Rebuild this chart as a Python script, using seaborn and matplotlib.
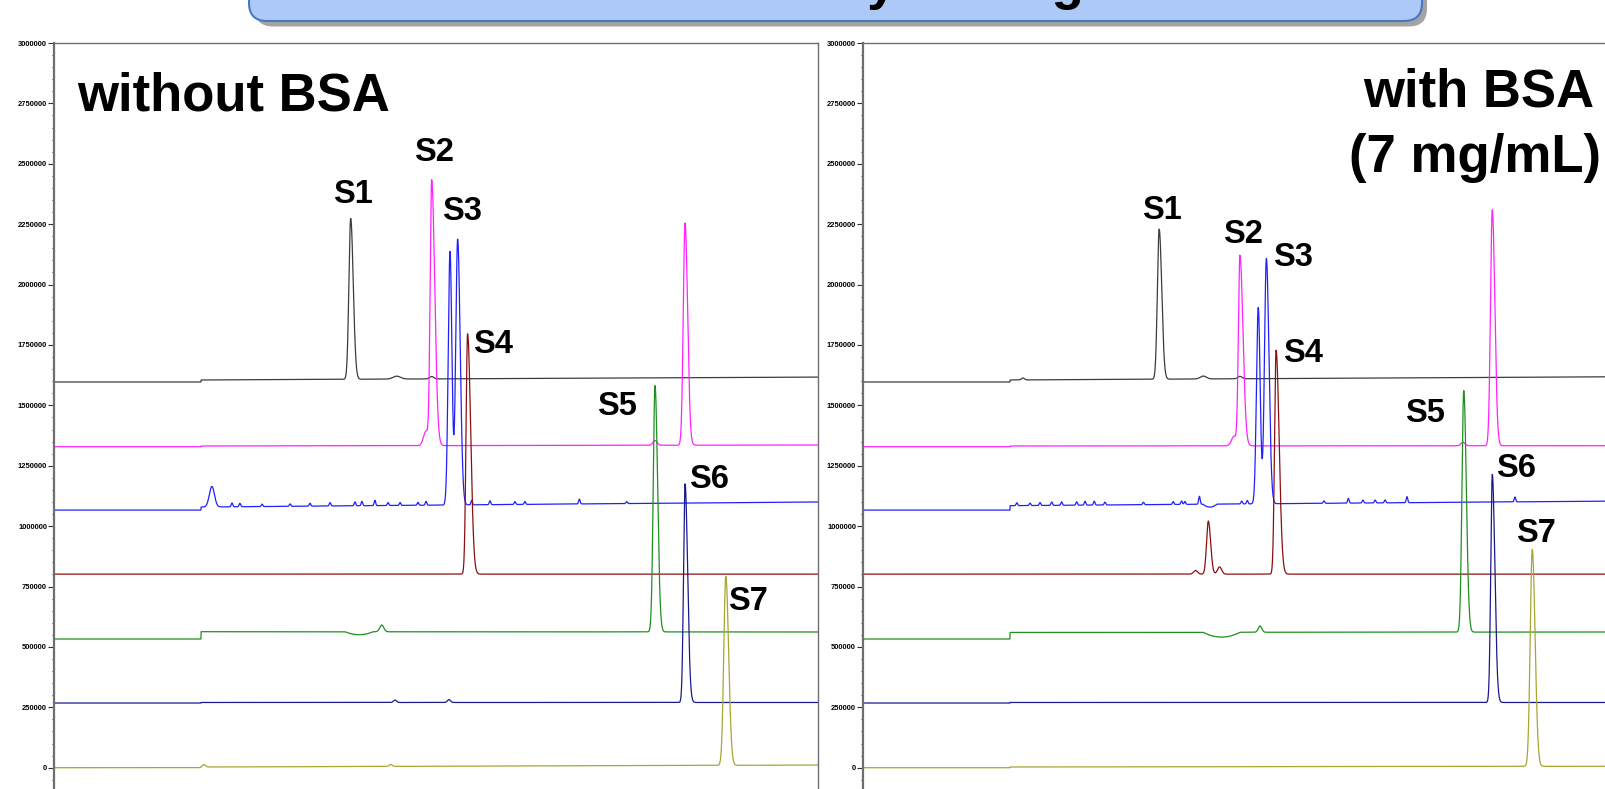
import numpy as np
import pandas as pd
import matplotlib
matplotlib.use("Agg")
import matplotlib.pyplot as plt
import seaborn as sns
from matplotlib.patches import FancyBboxPatch
from matplotlib.ticker import MultipleLocator, FuncFormatter

sns.set_theme(style="white")
plt.rcParams["font.family"] = ["Liberation Sans", "DejaVu Sans"]
plt.rcParams["text.color"] = "black"

# ---------------- DATA ----------------
trace_names = ["S1", "S2", "S3", "S4", "S5", "S6", "S7"]
trace_colors = ["#3c3c3c", "#ff22ff", "#2020ff", "#8a1010", "#1f8f1f", "#1a1a8c", "#a6a632"]
run_time = 30.0          # minutes shown in each panel
inject_time = 5.77       # baseline step (injection)

# baseline levels per trace: before step, after step, at end of run
left_base_before = [1596700, 1328800, 1066500, 801300, 532800, 267800, 0]
left_base_after  = [1605000, 1331700, 1079000, 801300, 563000, 270000, 2900]
left_base_end    = [1617000, 1335900, 1100000, 801300, 561800, 270000, 11000]
right_base_before = [1596700, 1328800, 1066500, 801300, 532800, 267800, 0]
right_base_after  = [1605000, 1331700, 1084600, 801300, 560000, 270000, 2900]
right_base_end    = [1618600, 1333000, 1104000, 801300, 561800, 270000, 6000]

# peaks: trace index, retention time, height, left width, right width
left_peaks = [
    (0, 11.65, 666000, 0.07, 0.10), (0, 13.46, 12000, 0.15, 0.15), (0, 14.83, 10000, 0.08, 0.08),
    (1, 14.61, 60000, 0.10, 0.08), (1, 14.83, 1100000, 0.06, 0.12), (1, 23.60, 20000, 0.08, 0.08),
    (1, 24.78, 920000, 0.07, 0.10),
    (2, 15.55, 1050000, 0.07, 0.075), (2, 15.85, 1100000, 0.075, 0.10),
    (3, 16.24, 995000, 0.06, 0.12),
    (4, 12.87, 28000, 0.08, 0.08), (4, 23.60, 1020000, 0.07, 0.10),
    (5, 13.39, 10000, 0.06, 0.06), (5, 15.51, 12000, 0.06, 0.06), (5, 24.78, 905000, 0.06, 0.10),
    (6, 5.89, 10000, 0.06, 0.06), (6, 13.22, 8000, 0.06, 0.06), (6, 26.38, 782000, 0.08, 0.11),
]
left_dips = [(4, 11.43, 12.53, 12000)]
left_blue_spike_rt = [6.20, 6.99, 7.30, 8.17, 9.27, 10.05, 10.84, 11.82, 12.09, 12.60, 13.12,
                      13.59, 14.29, 14.61, 16.40, 17.12, 18.10, 18.49, 20.63, 22.49]
left_blue_spike_h = [85000, 16000, 14000, 10000, 10000, 12000, 14000, 16000, 18000, 22000, 12000,
                     12000, 12000, 16000, 18000, 16000, 12000, 12000, 20000, 8000]

right_peaks = [
    (0, 6.28, 8000, 0.06, 0.06), (0, 11.63, 621000, 0.07, 0.10), (0, 13.36, 12000, 0.12, 0.12),
    (0, 14.80, 10000, 0.08, 0.08),
    (1, 14.57, 40000, 0.10, 0.08), (1, 14.80, 789000, 0.06, 0.12), (1, 23.56, 15000, 0.08, 0.08),
    (1, 24.71, 977000, 0.07, 0.10),
    (2, 15.52, 813000, 0.07, 0.075), (2, 15.84, 1015000, 0.075, 0.10),
    (3, 13.06, 15000, 0.08, 0.08), (3, 13.56, 220000, 0.07, 0.09), (3, 14.00, 30000, 0.08, 0.08),
    (3, 16.22, 927000, 0.06, 0.12),
    (4, 15.59, 26000, 0.07, 0.07), (4, 23.59, 1000000, 0.07, 0.10),
    (5, 24.71, 944000, 0.06, 0.10),
    (6, 26.28, 898000, 0.08, 0.11),
]
right_dips = [(4, 13.36, 14.80, 20000), (2, 13.35, 13.90, 12000)]
right_blue_spike_rt = [6.04, 6.56, 6.95, 7.41, 7.80, 8.39, 8.72, 9.08, 9.50, 11.01, 12.18, 12.51,
                       12.64, 13.21, 14.87, 15.09, 18.10, 19.06, 19.63, 20.11, 20.50, 21.36, 25.60]
right_blue_spike_h = [12000, 10000, 12000, 14000, 14000, 14000, 16000, 16000, 12000, 10000, 12000,
                      14000, 12000, 33000, 12000, 14000, 10000, 20000, 12000, 12000, 12000, 25000, 20000]

y_ticks = [0, 250000, 500000, 750000, 1000000, 1250000, 1500000, 1750000, 2000000,
           2250000, 2500000, 2750000, 3000000]

left_labels_xy = [(10.94, 2336400), (14.12, 2512700), (15.22, 2267300), (16.44, 1715500),
                  (21.31, 1460100), (24.95, 1156600), (26.48, 652800)]
right_labels_xy = [(10.94, 2270200), (14.12, 2170800), (16.09, 2076800), (16.48, 1680700),
                   (21.30, 1432300), (24.84, 1203400), (25.64, 932300)]

slide_title = "Selectivity testing"
left_title = "without BSA"
right_title_lines = ["with BSA", "(7 mg/mL)"]

# ---------------- BUILD TRACES ----------------
t = np.linspace(0, run_time, 7001)


def build(base_before, base_after, base_end, peaks, dips, spike_rt, spike_h):
    rows = []
    for i, name in enumerate(trace_names):
        frac = np.clip((t - inject_time) / (run_time - inject_time), 0, 1)
        y = np.where(t < inject_time, base_before[i],
                     base_after[i] + (base_end[i] - base_after[i]) * frac).astype(float)
        for (k, rt, h, sl, sr) in peaks:
            if k == i:
                s = np.where(t < rt, sl, sr)
                y += h * np.exp(-0.5 * ((t - rt) / s) ** 2)
        for (k, a, b, d) in dips:
            if k == i:
                m = (a + b) / 2
                w = (b - a) / 2
                y -= d * np.clip(1 - ((t - m) / w) ** 2, 0, None)
        if i == 2:
            for rt, h in zip(spike_rt, spike_h):
                s = 0.1 if h > 50000 else 0.03
                y += h * np.exp(-0.5 * ((t - rt) / s) ** 2)
        rows.append(pd.DataFrame({"time": t, "signal": y, "trace": name}))
    return pd.concat(rows, ignore_index=True)


df_left = build(left_base_before, left_base_after, left_base_end, left_peaks, left_dips,
                left_blue_spike_rt, left_blue_spike_h)
df_right = build(right_base_before, right_base_after, right_base_end, right_peaks, right_dips,
                 right_blue_spike_rt, right_blue_spike_h)

# ---------------- FIGURE ----------------
W, H = 1605, 789
fig = plt.figure(figsize=(W / 100, H / 100), dpi=100)
fig.patch.set_facecolor("white")

top_px, zero_px = 43, 767.7
px_per_unit = (zero_px - top_px) / 3000000
ymin = -(H - zero_px) / px_per_unit

ax1 = fig.add_axes([54 / W, 0, 764 / W, (H - top_px) / H])
ax2 = fig.add_axes([863 / W, 0, 764 / W, (H - top_px) / H])
palette = dict(zip(trace_names, trace_colors))

for ax, df in ((ax1, df_left), (ax2, df_right)):
    sns.lineplot(data=df, x="time", y="signal", hue="trace", palette=palette,
                 estimator=None, sort=False, legend=False, linewidth=0.9, ax=ax)
    ax.set_xlim(0, run_time)
    ax.set_ylim(ymin, 3000000)
    ax.set_xlabel("")
    ax.set_ylabel("")
    ax.set_xticks([])
    ax.set_yticks(y_ticks)
    ax.yaxis.set_minor_locator(MultipleLocator(50000))
    ax.yaxis.set_major_formatter(FuncFormatter(lambda v, p: f"{int(round(v))}"))
    ax.tick_params(axis="y", which="major", direction="out", length=4.5, width=0.8,
                   color="#333333", pad=0.5, left=True)
    ax.tick_params(axis="y", which="minor", direction="out", length=1.8, width=0.7,
                   color="#333333", left=True)
    for lab in ax.get_yticklabels():
        lab.set_fontfamily(["Liberation Sans", "DejaVu Sans"])
        lab.set_fontsize(5.4)
        lab.set_fontweight("bold")
        lab.set_color("black")
    for sp in ("left", "top", "right"):
        ax.spines[sp].set_color("#6e6e6e")
    ax.spines["left"].set_linewidth(1.6)
    ax.spines["top"].set_linewidth(1.0)
    ax.spines["right"].set_linewidth(1.0)
    ax.spines["bottom"].set_visible(False)
    ax.set_facecolor("white")

for ax, xy in ((ax1, left_labels_xy), (ax2, right_labels_xy)):
    for name, (lx, ly) in zip(trace_names, xy):
        ax.text(lx, ly, name, fontsize=23.5, fontweight="bold", ha="left", va="baseline",
                color="black")

# overlay in pixel coordinates
ov = fig.add_axes([0, 0, 1, 1], zorder=10)
ov.set_xlim(0, W)
ov.set_ylim(H, 0)
ov.axis("off")
ov.patch.set_alpha(0)

shadow = FancyBboxPatch((255, -60), 1172, 86.5, boxstyle="round,pad=0,rounding_size=18",
                        facecolor="#a3a3a3", edgecolor="none")
box = FancyBboxPatch((249, -60), 1173, 81, boxstyle="round,pad=0,rounding_size=18",
                     facecolor="#adc9f8", edgecolor="#4a78bc", linewidth=1.5)
ov.add_patch(shadow)
ov.add_patch(box)
# slide title sits above the visible area; only its descenders show
ov.text(860, -1.2, slide_title, fontsize=38, fontweight="bold", ha="center",
        va="baseline", color="black", clip_on=False)

ov.text(77, 110, left_title, fontsize=38, fontweight="bold", ha="left", va="baseline",
        color="black")
ov.text(1479, 106.7, right_title_lines[0], fontsize=38, fontweight="bold", ha="center",
        va="baseline", color="black")
ov.text(1475, 171.7, right_title_lines[1], fontsize=38, fontweight="bold", ha="center",
        va="baseline", color="black")

fig.savefig("out.png", dpi=100)
